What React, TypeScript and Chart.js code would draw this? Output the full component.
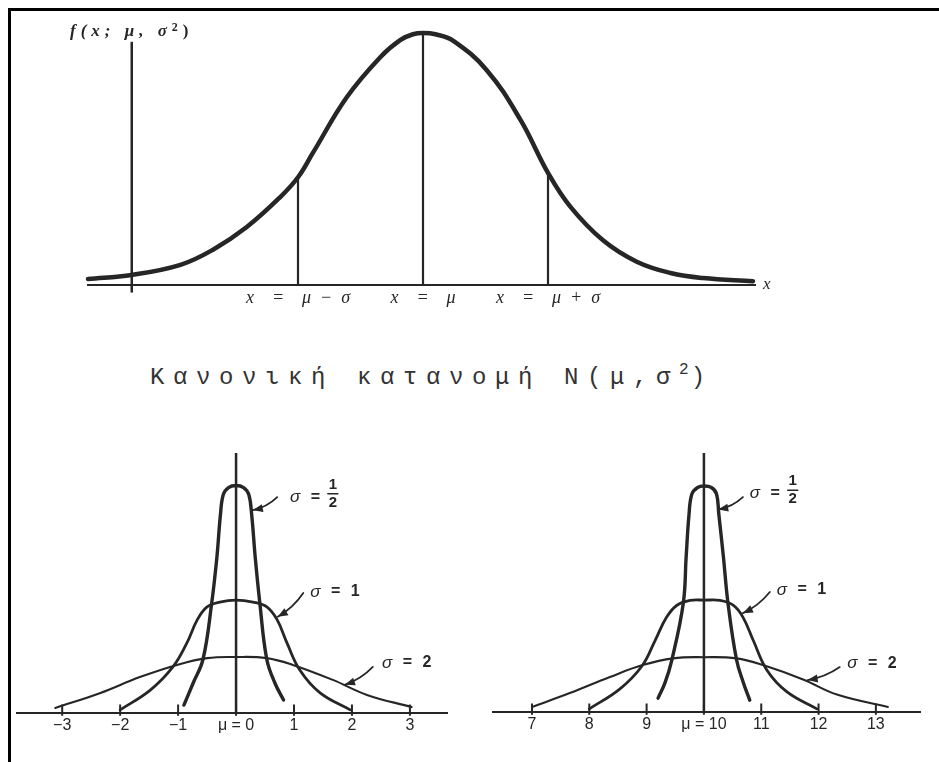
import { useEffect, useRef } from "react";
import { Chart, registerables } from "chart.js";

Chart.register(...registerables);

const INK = "#262626";
const SERIF = "'Liberation Serif', 'DejaVu Serif', serif";
const SANS = "'Liberation Sans', Arial, sans-serif";
const MONO = "'Liberation Mono', 'DejaVu Sans Mono', monospace";

// Upper panel: the density f(x; μ, σ²), abscissa in units of σ measured from μ
const bellX = [-2.68, -2.33, -1.94, -1.68, -1.41, -1.14, -1.0, -0.88, -0.61, -0.34, -0.18, -0.08, 0, 0.1, 0.24, 0.51, 0.78, 1.0, 1.18, 1.44, 1.71, 1.98, 2.24, 2.64];
const bellY = [0.0095, 0.016, 0.032, 0.056, 0.092, 0.14, 0.171, 0.21, 0.298, 0.362, 0.389, 0.398, 0.4, 0.398, 0.388, 0.341, 0.262, 0.178, 0.124, 0.071, 0.037, 0.019, 0.011, 0.006];
const bellMarks = [-1, 0, 1];
const bellMarkLabels = ["x\u2003=\u2003μ\u2002−\u2002σ", "x\u2003=\u2003μ", "x\u2003=\u2003μ\u2002+\u2002σ"];
const bellOrdinateAt = -2.33;
const bellOrdinateTop = 0.386;

// Lower-left panel: μ = 0
const zeroTicks = [-3, -2, -1, 0, 1, 2, 3];
const zeroTickLabels = ["−3", "−2", "−1", "μ = 0", "1", "2", "3"];
const zeroHalfX = [-0.9, -0.74, -0.57, -0.42, -0.33, -0.27, -0.22, -0.13, 0, 0.13, 0.22, 0.27, 0.33, 0.41, 0.53, 0.67, 0.82];
const zeroHalfY = [0.028, 0.106, 0.19, 0.389, 0.552, 0.7, 0.772, 0.797, 0.804, 0.797, 0.772, 0.7, 0.552, 0.389, 0.19, 0.106, 0.046];
const zeroOneX = [-2.0, -1.48, -1.09, -0.85, -0.67, -0.5, -0.28, 0, 0.29, 0.53, 0.71, 0.88, 1.1, 1.45, 1.97];
const zeroOneY = [0.011, 0.081, 0.163, 0.247, 0.329, 0.375, 0.392, 0.399, 0.392, 0.375, 0.329, 0.247, 0.152, 0.071, 0.011];
const zeroTwoX = [-3.12, -2.34, -1.66, -1.02, -0.5, 0, 0.53, 0.98, 1.67, 2.26, 3.03];
const zeroTwoY = [0.018, 0.071, 0.127, 0.17, 0.194, 0.198, 0.194, 0.17, 0.117, 0.064, 0.021];

// Lower-right panel: μ = 10
const tenTicks = [7, 8, 9, 10, 11, 12, 13];
const tenTickLabels = ["7", "8", "9", "μ = 10", "11", "12", "13"];
const tenHalfX = [9.2, 9.32, 9.44, 9.64, 9.69, 9.74, 9.79, 9.89, 10, 10.13, 10.22, 10.26, 10.34, 10.42, 10.57, 10.69, 10.8];
const tenHalfY = [0.049, 0.103, 0.184, 0.385, 0.549, 0.7, 0.772, 0.795, 0.8, 0.795, 0.772, 0.7, 0.549, 0.385, 0.184, 0.103, 0.042];
const tenOneX = [8.0, 8.53, 8.92, 9.15, 9.35, 9.53, 9.76, 10, 10.28, 10.51, 10.68, 10.86, 11.1, 11.45, 11.97];
const tenOneY = [0.011, 0.081, 0.163, 0.254, 0.336, 0.378, 0.395, 0.396, 0.395, 0.378, 0.336, 0.254, 0.148, 0.071, 0.011];
const tenTwoX = [7.0, 7.66, 8.36, 8.93, 9.46, 10, 10.57, 11.03, 11.73, 12.32, 13.21];
const tenTwoY = [0.018, 0.067, 0.124, 0.166, 0.19, 0.194, 0.19, 0.166, 0.115, 0.062, 0.018];

// Tick marks rise above the abscissa and dip a little below it (density units)
const TICK_UP = 0.03;
const TICK_DOWN = -0.01;

type Pt = { x: number; y: number | null };
const pts = (xs: number[], ys: number[]): Pt[] => xs.map((x, i) => ({ x, y: ys[i] }));

type Part = { t: string; font: string; dy?: number; dx?: number };
type Note =
  | { kind: "text"; x: number; y: number; parts: Part[]; align?: "left" | "center"; spacing?: number }
  | { kind: "arrow"; from: [number, number]; to: [number, number]; bend?: number }
  | { kind: "fraction"; x: number; y: number; num: string; den: string; font: string };

// Draws labels, arrows and stacked fractions placed in data coordinates
function notesPlugin(items: Note[]) {
  return {
    id: "notes",
    afterDatasetsDraw(chart: any) {
      const { ctx } = chart;
      const px = (v: number) => chart.scales.x.getPixelForValue(v);
      const py = (v: number) => chart.scales.y.getPixelForValue(v);
      ctx.save();
      ctx.fillStyle = INK;
      ctx.strokeStyle = INK;
      ctx.textBaseline = "middle";
      ctx.lineCap = "round";
      for (const n of items) {
        if (n.kind === "arrow") {
          const x0 = px(n.from[0]), y0 = py(n.from[1]);
          const x1 = px(n.to[0]), y1 = py(n.to[1]);
          const dx = x1 - x0, dy = y1 - y0;
          const len = Math.hypot(dx, dy) || 1;
          const b = n.bend ?? 0;
          const cx = (x0 + x1) / 2 - (dy / len) * b;
          const cy = (y0 + y1) / 2 + (dx / len) * b;
          ctx.lineWidth = 1.8;
          ctx.beginPath();
          ctx.moveTo(x0, y0);
          ctx.quadraticCurveTo(cx, cy, x1, y1);
          ctx.stroke();
          const a = Math.atan2(y1 - cy, x1 - cx);
          const L = 10, W = 4;
          ctx.beginPath();
          ctx.moveTo(x1, y1);
          ctx.lineTo(x1 - L * Math.cos(a) + W * Math.sin(a), y1 - L * Math.sin(a) - W * Math.cos(a));
          ctx.lineTo(x1 - L * Math.cos(a) - W * Math.sin(a), y1 - L * Math.sin(a) + W * Math.cos(a));
          ctx.closePath();
          ctx.fill();
        } else if (n.kind === "text") {
          ctx.letterSpacing = `${n.spacing ?? 0}px`;
          ctx.textAlign = "left";
          let total = 0;
          for (const p of n.parts) {
            ctx.font = p.font;
            total += ctx.measureText(p.t).width + (p.dx ?? 0);
          }
          let x = px(n.x) - (n.align === "center" ? total / 2 : 0);
          const y = py(n.y);
          for (const p of n.parts) {
            ctx.font = p.font;
            x += p.dx ?? 0;
            ctx.fillText(p.t, x, y + (p.dy ?? 0));
            x += ctx.measureText(p.t).width;
          }
          ctx.letterSpacing = "0px";
        } else {
          ctx.font = n.font;
          ctx.textAlign = "center";
          const x = px(n.x), y = py(n.y);
          ctx.fillText(n.num, x, y - 9);
          ctx.fillText(n.den, x, y + 9);
          ctx.lineWidth = 1.6;
          ctx.beginPath();
          ctx.moveTo(x - 5, y);
          ctx.lineTo(x + 5, y);
          ctx.stroke();
        }
      }
      ctx.restore();
    },
  };
}

const curve = (data: Pt[], width: number) => ({
  data,
  showLine: true,
  borderColor: INK,
  borderWidth: width,
  borderCapStyle: "round",
  borderJoinStyle: "round",
  tension: 0.4,
  pointRadius: 0,
  clip: false,
});

const segment = (x: number, y0: number, y1: number, width: number) => ({
  data: [{ x, y: y0 }, { x, y: y1 }],
  showLine: true,
  borderColor: INK,
  borderWidth: width,
  pointRadius: 0,
  clip: false,
});

// Short vertical strokes at each labelled value, separated by gaps
const tickMarks = (xs: number[]) => ({
  data: xs.flatMap((x) => [
    { x, y: TICK_DOWN },
    { x, y: TICK_UP },
    { x, y: null },
  ]),
  showLine: true,
  spanGaps: false,
  borderColor: INK,
  borderWidth: 2,
  pointRadius: 0,
  clip: false,
});

type AxisSpec = {
  min: number;
  max: number;
  ymax: number;
  ticks: number[];
  labels: string[];
  font: any;
  padding: any;
  axisHeight: number;
  tickPadding: number;
};

function options(a: AxisSpec) {
  return {
    animation: false,
    responsive: false,
    maintainAspectRatio: false,
    events: [],
    layout: { padding: a.padding },
    plugins: { legend: { display: false }, tooltip: { enabled: false } },
    scales: {
      x: {
        type: "linear",
        min: a.min,
        max: a.max,
        grid: { display: false, drawTicks: false },
        border: { display: true, color: INK, width: 2 },
        afterBuildTicks: (s: any) => {
          s.ticks = a.ticks.map((value) => ({ value }));
        },
        afterFit: (s: any) => {
          s.height = a.axisHeight;
        },
        ticks: {
          autoSkip: false,
          maxRotation: 0,
          padding: a.tickPadding,
          color: INK,
          font: a.font,
          callback: (v: number) => a.labels[a.ticks.indexOf(v)] ?? "",
        },
      },
      y: { display: false, min: 0, max: a.ymax },
    },
  };
}

const bellPeak = (m: number) => bellY[bellX.indexOf(m)];

function upperConfig(): any {
  return {
    type: "scatter",
    data: {
      datasets: [
        curve(pts(bellX, bellY), 4.5),
        ...bellMarks.map((m) => segment(m, 0, bellPeak(m), 2.2)),
        segment(bellOrdinateAt, -0.012, bellOrdinateTop, 2.5),
      ],
    },
    options: options({
      min: -2.68,
      max: 2.656,
      ymax: 0.4,
      ticks: bellMarks,
      labels: bellMarkLabels,
      font: { family: SERIF, size: 18, style: "italic" },
      padding: { left: 88, right: 184, top: 33, bottom: 0 },
      axisHeight: 45,
      tickPadding: 2,
    }),
    plugins: [
      notesPlugin([
        {
          kind: "text",
          x: bellOrdinateAt,
          y: 0.402,
          align: "center",
          spacing: 5,
          parts: [
            { t: "f(x; μ, σ", font: `italic bold 17px ${SERIF}` },
            { t: "2", font: `bold 12px ${SERIF}`, dy: -4 },
            { t: ")", font: `bold 17px ${SERIF}` },
          ],
        },
        { kind: "text", x: 2.72, y: 0, parts: [{ t: "x", font: `italic 17px ${SERIF}` }] },
      ]),
    ],
  };
}

const sigmaParts = (v: string): Part[] => [
  { t: "σ", font: `italic 17px ${SANS}` },
  { t: " = " + v, font: `bold 16px ${SANS}` },
];

function lowerConfig(
  half: Pt[],
  one: Pt[],
  two: Pt[],
  mu: number,
  ticks: number[],
  labels: string[],
  min: number,
  max: number,
  ymax: number,
  padding: any,
  axisHeight: number,
  notes: Note[]
): any {
  return {
    type: "scatter",
    data: {
      datasets: [
        curve(half, 3.4),
        curve(one, 2.8),
        curve(two, 2.1),
        segment(mu, 0, ymax, 2.5),
        tickMarks(ticks),
      ],
    },
    options: options({
      min,
      max,
      ymax,
      ticks,
      labels,
      font: { family: SANS, size: 16 },
      padding,
      axisHeight,
      tickPadding: 3,
    }),
    plugins: [notesPlugin(notes)],
  };
}

function leftConfig() {
  return lowerConfig(
    pts(zeroHalfX, zeroHalfY),
    pts(zeroOneX, zeroOneY),
    pts(zeroTwoX, zeroTwoY),
    0,
    zeroTicks,
    zeroTickLabels,
    -3.78,
    3.64,
    0.919,
    { left: 17, right: 23, top: 23, bottom: 0 },
    49,
    [
      { kind: "arrow", from: [0.71, 0.763], to: [0.29, 0.717], bend: -4 },
      { kind: "text", x: 0.93, y: 0.763, spacing: 3, parts: [{ t: "σ", font: `italic 17px ${SANS}` }, { t: " =", font: `bold 16px ${SANS}` }] },
      { kind: "fraction", x: 1.67, y: 0.775, num: "1", den: "2", font: `bold 15px ${SANS}` },
      { kind: "arrow", from: [1.16, 0.424], to: [0.72, 0.34], bend: -4 },
      { kind: "text", x: 1.28, y: 0.428, spacing: 3, parts: sigmaParts("1") },
      { kind: "arrow", from: [2.36, 0.163], to: [1.88, 0.1], bend: -4 },
      { kind: "text", x: 2.52, y: 0.177, spacing: 3, parts: sigmaParts("2") },
    ]
  );
}

function rightConfig() {
  return lowerConfig(
    pts(tenHalfX, tenHalfY),
    pts(tenOneX, tenOneY),
    pts(tenTwoX, tenTwoY),
    10,
    tenTicks,
    tenTickLabels,
    6.32,
    13.77,
    0.917,
    { left: 23, right: 19, top: 23, bottom: 0 },
    50,
    [
      { kind: "arrow", from: [10.68, 0.761], to: [10.25, 0.717], bend: -4 },
      { kind: "text", x: 10.8, y: 0.775, spacing: 3, parts: [{ t: "σ", font: `italic 17px ${SANS}` }, { t: " =", font: `bold 16px ${SANS}` }] },
      { kind: "fraction", x: 11.55, y: 0.785, num: "1", den: "2", font: `bold 15px ${SANS}` },
      { kind: "arrow", from: [11.15, 0.425], to: [10.68, 0.35], bend: -4 },
      { kind: "text", x: 11.27, y: 0.432, spacing: 3, parts: sigmaParts("1") },
      { kind: "arrow", from: [12.37, 0.159], to: [11.81, 0.113], bend: -4 },
      { kind: "text", x: 12.5, y: 0.173, spacing: 3, parts: sigmaParts("2") },
    ]
  );
}

function Panel(props: { left: number; top: number; width: number; height: number; build: () => any }) {
  const ref = useRef<HTMLCanvasElement>(null);
  useEffect(() => {
    const chart = new Chart(ref.current as HTMLCanvasElement, props.build());
    return () => chart.destroy();
  }, []);
  return (
    <canvas
      ref={ref}
      width={props.width}
      height={props.height}
      style={{ position: "absolute", left: props.left, top: props.top, width: props.width, height: props.height }}
    />
  );
}

export default function App() {
  return (
    <div style={{ position: "absolute", left: 0, top: 0, width: 939, height: 762, background: "#fff", overflow: "hidden" }}>
      <div
        style={{
          position: "absolute",
          left: 8,
          top: 8,
          width: 931,
          height: 754,
          borderTop: "3px solid #000",
          borderLeft: "3px solid #000",
          boxSizing: "border-box",
        }}
      />
      <Panel left={0} top={0} width={939} height={330} build={upperConfig} />
      <div
        style={{
          position: "absolute",
          left: 150,
          top: 363,
          font: `24px ${MONO}`,
          lineHeight: "30px",
          letterSpacing: "8.6px",
          color: "#333",
          whiteSpace: "nowrap",
        }}
      >
        Κανονική κατανομή N(μ,σ
        <span style={{ position: "relative", top: -10, fontSize: 16, letterSpacing: "2px" }}>2</span>)
      </div>
      <Panel left={0} top={430} width={470} height={332} build={leftConfig} />
      <Panel left={470} top={430} width={469} height={332} build={rightConfig} />
    </div>
  );
}
